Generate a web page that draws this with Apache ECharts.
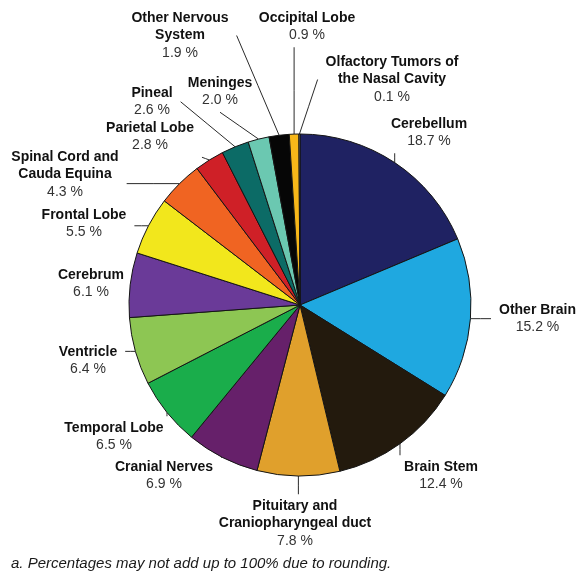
<!DOCTYPE html>
<html>
<head>
<meta charset="utf-8">
<script src="https://cdn.jsdelivr.net/npm/echarts@6/dist/echarts.min.js"></script>
<style>
  html, body { margin: 0; padding: 0; background: #fff; }
  #PieChart { width: 577px; height: 572px; }
</style>
</head>
<body>
<div id="PieChart"></div>
<script>
  // clockwise from 12 o'clock
  const names = [
    'Cerebellum',
    'Other Brain',
    'Brain Stem',
    'Pituitary and\nCraniopharyngeal duct',
    'Cranial Nerves',
    'Temporal Lobe',
    'Ventricle',
    'Cerebrum',
    'Frontal Lobe',
    'Spinal Cord and\nCauda Equina',
    'Parietal Lobe',
    'Pineal',
    'Meninges',
    'Other Nervous\nSystem',
    'Occipital Lobe',
    'Olfactory Tumors of\nthe Nasal Cavity'
  ]
  const percents = [18.7, 15.2, 12.4, 7.8, 6.9, 6.5, 6.4, 6.1, 5.5, 4.3, 2.8, 2.6, 2.0, 1.9, 0.9, 0.1]
  const colors = [
    '#1f2262', '#1fa8e0', '#231a0d', '#e0a02c', '#66206a', '#1aad4b', '#8dc653', '#6a3a98',
    '#f2e71c', '#f06422', '#cf2027', '#0c6b66', '#6bc8b1', '#060606', '#f7b719', '#b0b0b0'
  ]
  const footnote = 'a. Percentages may not add up to 100% due to rounding.'

  // label anchor: x, y of first text line centre, alignment, side the leader line attaches to
  const labelPos = [
    [429, 124, 'center', 'near'],
    [499, 310, 'left', 'near'],
    [441, 467, 'center', 'near'],
    [295, 506, 'center', 'near'],
    [164, 467, 'center', 'near'],
    [114, 428, 'center', 'near'],
    [88, 352, 'center', 'near'],
    [91, 275, 'center', 'near'],
    [84, 215, 'center', 'near'],
    [65, 157, 'center', 'near'],
    [150, 128, 'center', 'near'],
    [152, 93, 'center', 'right'],
    [220, 83, 'center', 'bottom'],
    [180, 18, 'center', 'right'],
    [307, 18, 'center', 'near'],
    [392, 62, 'center', 'left']
  ]

  const LH = 17.5
  const PAD = [3, 8]
  const font = "'Liberation Sans', Arial, Helvetica, sans-serif"

  const option = {
    animation: false,
    title: {
      text: footnote,
      left: 6,
      top: 551,
      textStyle: {
        fontFamily: font,
        fontSize: 15,
        fontStyle: 'italic',
        fontWeight: 'normal',
        color: '#1a1a1a'
      }
    },
    series: [
      {
        type: 'pie',
        center: [300, 305],
        radius: 171,
        startAngle: 90,
        clockwise: true,
        avoidLabelOverlap: false,
        data: names.map((n, i) => ({ name: n, value: percents[i] })),
        color: colors,
        itemStyle: {
          borderColor: '#141414',
          borderWidth: 1
        },
        label: {
          show: true,
          position: 'outside',
          padding: PAD,
          lineHeight: LH,
          formatter: p => '{n|' + p.name + '}\n{v|' + p.value.toFixed(1) + ' %}',
          rich: {
            n: { fontFamily: font, fontSize: 14, fontWeight: 'bold', color: '#111', lineHeight: LH, align: 'center' },
            v: { fontFamily: font, fontSize: 14, color: '#333', lineHeight: LH, align: 'center' }
          }
        },
        labelLine: {
          show: true,
          length: 0,
          length2: 0,
          lineStyle: { color: '#2a2a2a', width: 1 }
        },
        labelLayout: params => {
          const lp = labelPos[params.dataIndex]
          const r = params.labelRect
          const x = lp[2] === 'left' ? lp[0] - PAD[1] : lp[0]
          const y = lp[1] - LH / 2 - PAD[0]
          // new label box
          const left = lp[2] === 'left' ? x : x - r.width / 2
          const right = left + r.width
          const bottom = y + r.height
          // line from the slice edge to the label box
          const p0 = params.labelLinePoints[0]
          let tx, ty
          if (lp[3] === 'right') { tx = right; ty = (y + bottom) / 2 }
          else if (lp[3] === 'left') { tx = left; ty = (y + bottom) / 2 }
          else if (lp[3] === 'bottom') { tx = (left + right) / 2; ty = bottom }
          else {
            tx = Math.min(Math.max(p0[0], left), right)
            ty = Math.min(Math.max(p0[1], y), bottom)
          }
          return {
            x: x,
            y: y,
            align: lp[2],
            verticalAlign: 'top',
            labelLinePoints: [p0, [(p0[0] + tx) / 2, (p0[1] + ty) / 2], [tx, ty]]
          }
        }
      }
    ]
  }

  const chart = echarts.init(document.getElementById('PieChart'))
  chart.setOption(option)
  window.onresize = () => {
    chart.resize()
  }
</script>
</body>
</html>
